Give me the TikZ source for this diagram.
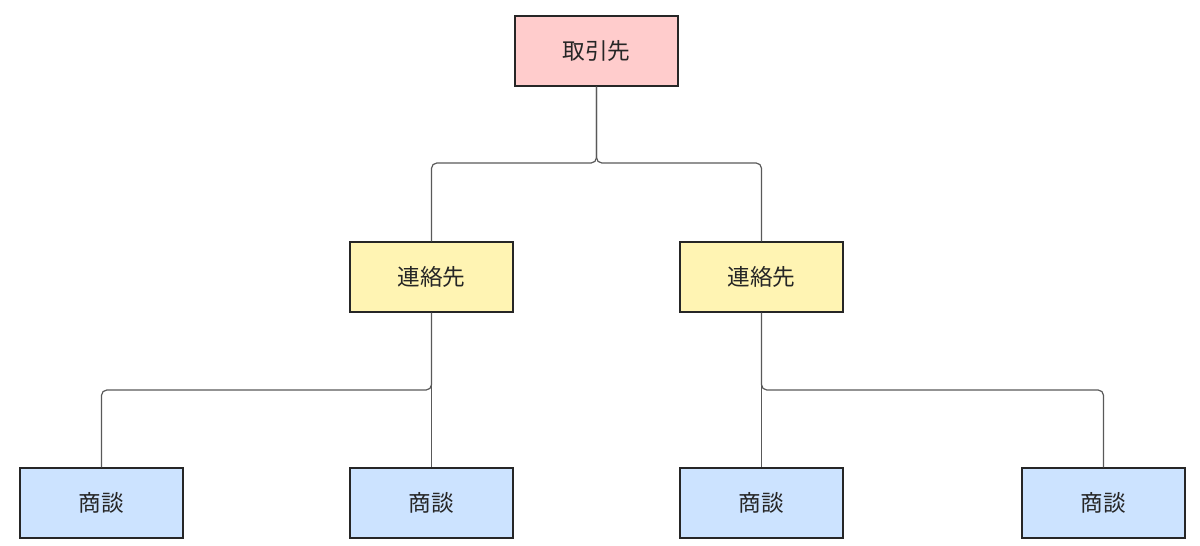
\documentclass[tikz,border=0pt]{standalone}
\usepackage{fontspec}
\setmainfont{Noto Sans CJK JP}
\begin{document}
\begin{tikzpicture}[x=0.75pt,y=-0.75pt,
  box/.style={draw=black!85,line width=0.9pt,minimum width=122.25pt,minimum height=52.5pt,inner sep=0pt,font=\fontsize{17}{20}\selectfont,text=black!85},
  pinkbox/.style={box,fill=pinkc},
  yellowbox/.style={box,fill=yellowc},
  bluebox/.style={box,fill=bluec},
  conn/.style={draw=black!65,line width=0.9pt,rounded corners=4pt}]
\definecolor{pinkc}{HTML}{FFCCCC}
\definecolor{yellowc}{HTML}{FFF4B3}
\definecolor{bluec}{HTML}{CCE3FF}
\useasboundingbox (0,0) rectangle (1200,546);
\node[pinkbox] (t) at (596.5,51) {取引先};
\node[yellowbox] (m1) at (431.5,277) {連絡先};
\node[yellowbox] (m2) at (761.5,277) {連絡先};
\node[bluebox] (b1) at (101.5,503) {商談};
\node[bluebox] (b2) at (431.5,503) {商談};
\node[bluebox] (b3) at (761.5,503) {商談};
\node[bluebox] (b4) at (1103.5,503) {商談};
\coordinate (j0) at (596.5,163);
\coordinate (j1) at (431.5,390);
\coordinate (j2) at (761.5,390);
\path[conn] (t.south) -- (j0) -| (m1.north);
\path[conn] (t.south) -- (j0) -| (m2.north);
\path[conn] (m1.south) -- (b2.north);
\path[conn] (m1.south) -- (j1) -| (b1.north);
\path[conn] (m2.south) -- (b3.north);
\path[conn] (m2.south) -- (j2) -| (b4.north);
\end{tikzpicture}
\end{document}
